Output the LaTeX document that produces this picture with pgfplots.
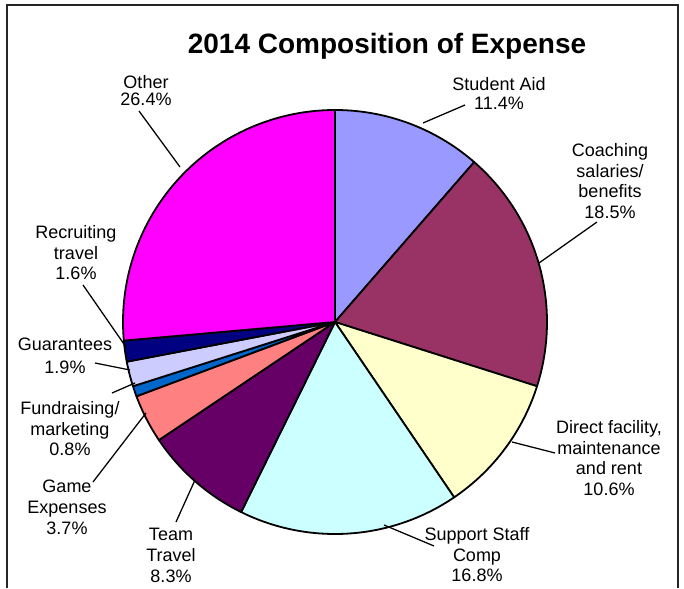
\documentclass[border=0pt]{standalone}
\usepackage{fontspec}
\setmainfont{Liberation Sans}
\usepackage{pgfplots}
\usepackage{pgfplotstable}
\pgfplotsset{compat=1.18}
\definecolor{cA}{HTML}{9999FF}
\definecolor{cB}{HTML}{993366}
\definecolor{cC}{HTML}{FFFFCC}
\definecolor{cD}{HTML}{CCFFFF}
\definecolor{cE}{HTML}{660066}
\definecolor{cF}{HTML}{FF8080}
\definecolor{cG}{HTML}{0066CC}
\definecolor{cH}{HTML}{CCCCFF}
\definecolor{cI}{HTML}{000080}
\definecolor{cJ}{HTML}{FF00FF}
% share of expense (%), clockwise from 12 o'clock
\pgfplotstableread[col sep=comma]{
pct,col
11.4,cA
18.5,cB
10.6,cC
16.8,cD
8.3,cE
3.7,cF
0.8,cG
1.9,cH
1.6,cI
26.4,cJ
}\expdata
\begin{document}
\begin{tikzpicture}[lab/.style={inner sep=0pt, align=center, anchor=north, font=\fontsize{13.5}{15.6}\selectfont}]
\begin{axis}[
  scale only axis, width=513pt, height=441pt,
  xmin=0, xmax=684, ymin=0, ymax=588,
  hide axis, clip=false,
]
\pgfmathsetmacro\cumA{0}
\pgfplotsforeachungrouped \i in {0,...,9}{%
  \pgfplotstablegetelem{\i}{pct}\of\expdata
  \let\p=\pgfplotsretval
  \pgfplotstablegetelem{\i}{col}\of\expdata
  \let\c=\pgfplotsretval
  \pgfmathsetmacro\aS{90-3.6*\cumA}%
  \pgfmathsetmacro\cumA{\cumA+\p}%
  \pgfmathsetmacro\aE{90-3.6*\cumA}%
  \edef\temp{\noexpand\addplot[fill=\c,draw=black,line width=1.35pt,line join=round,domain=\aE:\aS,samples=80] ({335+212*cos(x)},{266+212*sin(x)}) -- (axis cs:335,266) -- cycle;}%
  \temp
}
% frame
\addplot[black!85, line width=1.3pt] coordinates {(7,0) (7,583) (678,583) (678,0)};
% leader lines
\addplot[black, line width=0.95pt] coordinates {(139,477) (180,421)};
\addplot[black, line width=0.95pt] coordinates {(465,483) (423,465)};
\addplot[black, line width=0.95pt] coordinates {(597,366) (539,325)};
\addplot[black, line width=0.95pt] coordinates {(555,135) (512,146)};
\addplot[black, line width=0.95pt] coordinates {(434,42) (384,63)};
\addplot[black, line width=0.95pt] coordinates {(176,66) (195,108)};
\addplot[black, line width=0.95pt] coordinates {(93,106) (146,175)};
\addplot[black, line width=0.95pt] coordinates {(112,195) (135,205)};
\addplot[black, line width=0.95pt] coordinates {(95,225) (130,218)};
\addplot[black, line width=0.95pt] coordinates {(83,303) (126,241)};
% title
\node[anchor=base, inner sep=0pt, font=\fontsize{21}{25}\selectfont\bfseries] at (axis cs:387,534) {2014 Composition of Expense};
% labels
\node[lab] at (axis cs:146,513) {Other\\[-2.5pt]26.4\%};
\node[lab] at (axis cs:499,511) {Student Aid\\[-1pt]11.4\%};
\node[lab] at (axis cs:610,445) {Coaching\\salaries/\\benefits\\18.5\%};
\node[lab] at (axis cs:609,168) {Direct facility,\\maintenance\\and rent\\10.6\%};
\node[lab] at (axis cs:477,61) {Support Staff\\Comp\\16.8\%};
\node[lab] at (axis cs:171,60) {Team\\Travel\\8.3\%};
\node[lab] at (axis cs:67,108) {Game\\Expenses\\3.7\%};
\node[lab] at (axis cs:70,187) {Fundraising/\\marketing\\0.8\%};
\node[lab] at (axis cs:65,250) {Guarantees\\[1.5pt]1.9\%};
\node[lab] at (axis cs:76,363) {Recruiting\\travel\\1.6\%};
\end{axis}
\pgfresetboundingbox
\path (current axis.south west) rectangle (current axis.north east);
\end{tikzpicture}
\end{document}
